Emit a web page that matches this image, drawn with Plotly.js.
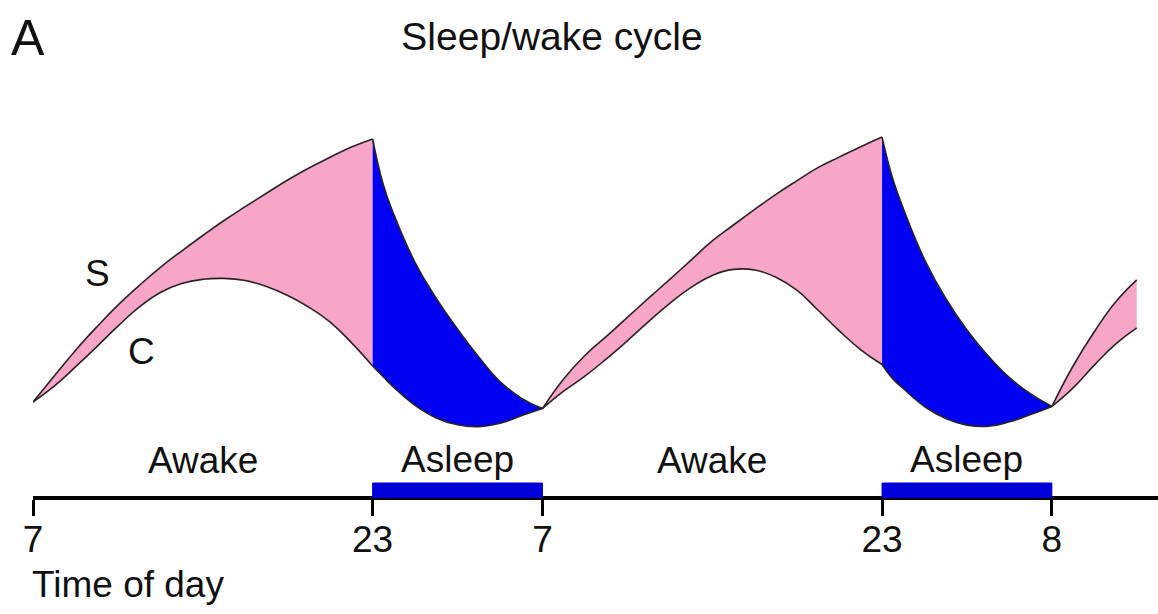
<!DOCTYPE html>
<html><head><meta charset="utf-8">
<script src="https://cdn.plot.ly/plotly-3.0.1.min.js"></script>
<style>html,body{margin:0;padding:0;background:#fff;} #chart{width:1158px;height:614px;}</style>
</head><body><div id="chart"></div>
<script>
// Drawn time positions (hours from the first 07:00 mark, as laid out in the figure)
const tickPos = [0, 16, 24, 40, 48];
const tickLabels = ['7', '23', '7', '23', '8'];

// Sleep periods (drawn positions)
const sleepStart = [16, 40];
const sleepEnd = [24, 48];
const awakeStart = [0, 24];
const awakeEnd = [16, 40];

// Segment 1: awake
const hours1 = [0,1,2,3,4,5,6,7,8,9,10,11,12,13,14,15,16];
const S1 = [32.0,40.7,49.2,57.0,64.3,70.8,76.9,82.3,87.5,92.5,97.1,101.6,106.0,110.0,113.6,117.0,119.7];
const C1 = [32.0,37.3,43.7,50.4,57.3,63.6,68.5,71.5,72.9,73.2,72.5,70.5,67.5,63.6,58.6,51.8,44.0];
// Segment 2: asleep
const hours2 = [16,16.5,17,18,19,20,21,22,23,24];
const S2 = [119.7,104.5,94.5,78.5,66.5,56.3,47.0,38.8,33.3,29.8];
const C2 = [44.0,40.4,36.9,30.9,26.7,24.4,23.8,24.9,27.4,29.8];
// Segment 3: awake
const hours3 = [24,25,26,27,28,29,30,31,32,33,34,35,36,37,38,39,40];
const S3 = [29.8,39.7,47.5,53.8,60.2,66.6,72.9,79.3,85.7,91.0,96.2,101.2,105.8,110.2,113.7,117.1,120.3];
const C3 = [29.8,35.6,40.6,46.3,52.4,58.8,64.9,70.2,74.2,76.2,76.0,73.6,69.2,62.5,55.6,49.4,44.5];
// Segment 4: asleep
const hours4 = [40,40.5,41,42,43,44,45,46,47,48];
const S4 = [120.3,106.5,96.5,79.5,66.5,56.0,47.3,40.1,34.7,30.5];
const C4 = [44.5,39.8,36.5,30.5,26.5,24.3,23.9,25.4,27.8,30.5];
// Segment 5: awake (partial)
const hours5 = [48,49,50,51,52];
const S5 = [30.5,44.0,55.4,65.3,72.7];
const C5 = [30.5,36.7,44.3,51.3,56.7];

const PINK = '#f7a6ca';
const BLUE = '#0000f2';
const BAR = '#0000d8';
const EDGE = '#2a2226';
const FONT = 'Liberation Sans, Arial, Helvetica, sans-serif';

const segments = [
  {h: hours1, s: S1, c: C1, fill: PINK},
  {h: hours2, s: S2, c: C2, fill: BLUE},
  {h: hours3, s: S3, c: C3, fill: PINK},
  {h: hours4, s: S4, c: C4, fill: BLUE},
  {h: hours5, s: S5, c: C5, fill: PINK}
];

const traces = [];
segments.forEach(seg => {
  traces.push({x: seg.h, y: seg.c, type: 'scatter', mode: 'lines',
    line: {color: EDGE, width: 1.6, shape: 'spline', smoothing: 1.3}, hoverinfo: 'skip'});
  traces.push({x: seg.h, y: seg.s, type: 'scatter', mode: 'lines', fill: 'tonexty', fillcolor: seg.fill,
    line: {color: EDGE, width: 1.6, shape: 'spline', smoothing: 1.3}, hoverinfo: 'skip'});
});

const shapes = sleepStart.map((s, i) => ({
  type: 'rect', xref: 'x', yref: 'paper', x0: s, x1: sleepEnd[i], y0: -0.004, y1: 0.0335,
  fillcolor: BAR, line: {color: BAR, width: 1}, layer: 'above'
}));

const annotations = [
  {text: 'A', xref: 'paper', yref: 'paper', x: -0.0213, y: 1.18, xanchor: 'left', yanchor: 'middle',
   showarrow: false, font: {family: FONT, size: 50, color: '#111'}},
  {text: 'S', xref: 'x', yref: 'y', x: 3.06, y: 74.9, showarrow: false, font: {family: FONT, size: 37, color: '#111'}},
  {text: 'C', xref: 'x', yref: 'y', x: 5.12, y: 48.8, showarrow: false, font: {family: FONT, size: 37, color: '#111'}},
  {text: 'Time of day', xref: 'x', yref: 'paper', x: 0, y: 0, xanchor: 'left', yanchor: 'top', yshift: -66, xshift: -3,
   showarrow: false, font: {family: FONT, size: 37, color: '#111'}}
];
awakeStart.forEach((a, i) => annotations.push({text: 'Awake', xref: 'x', yref: 'y', x: (a + awakeEnd[i]) / 2, y: 12.5,
  showarrow: false, font: {family: FONT, size: 37, color: '#111'}}));
sleepStart.forEach((s, i) => annotations.push({text: 'Asleep', xref: 'x', yref: 'y', x: (s + sleepEnd[i]) / 2, y: 12.8,
  showarrow: false, font: {family: FONT, size: 37, color: '#111'}}));

const layout = {
  width: 1158, height: 614,
  margin: {l: 33, r: 0, t: 108, b: 118},
  paper_bgcolor: '#fff', plot_bgcolor: '#fff',
  showlegend: false, hovermode: false,
  title: {text: 'Sleep/wake cycle', x: 0.4767, xanchor: 'center', xref: 'container', y: 0.94, yanchor: 'middle', yref: 'container',
    font: {family: FONT, size: 39, color: '#111'}},
  xaxis: {range: [0, 53], showgrid: false, zeroline: false, showline: true, linecolor: '#000', linewidth: 4,
    ticks: 'outside', ticklen: 16, tickwidth: 3, tickcolor: '#000', ticklabelstandoff: -8,
    tickmode: 'array', tickvals: tickPos, ticktext: tickLabels,
    tickfont: {family: FONT, size: 37, color: '#111'}, fixedrange: true},
  yaxis: {range: [0.667, 130], visible: false, fixedrange: true},
  shapes: shapes,
  annotations: annotations
};

Plotly.newPlot('chart', traces, layout, {staticPlot: true, displayModeBar: false});
</script>
</body></html>
